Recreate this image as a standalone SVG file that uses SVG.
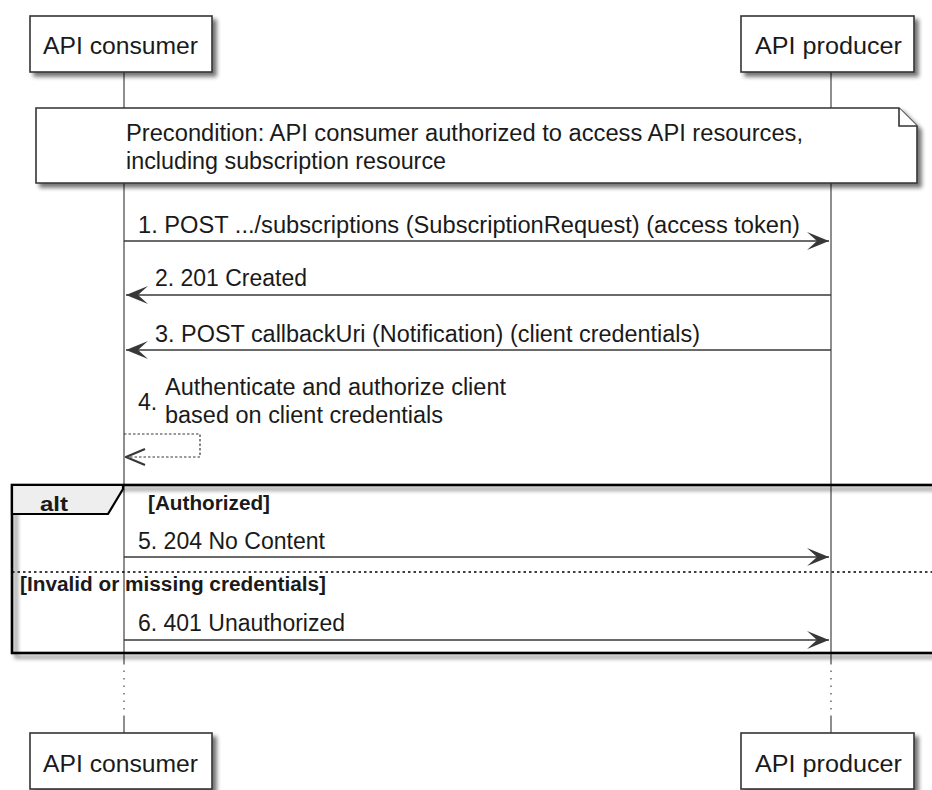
<svg xmlns="http://www.w3.org/2000/svg" width="932" height="790" viewBox="0 0 932 790">
  <style>
    text { font-family: "Liberation Sans", Arial, sans-serif; fill: #1a1a1a; }
    .lbl { font-size: 23px; }
    .bold { font-size: 20px; font-weight: bold; }
    .box { fill: #ffffff; stroke: #333333; stroke-width: 1.6; }
    .life { stroke: #444444; stroke-width: 1.2; fill: none; }
    .lifedot { stroke: #444444; stroke-width: 1.2; stroke-dasharray: 1.5 6; fill: none; }
    .msg { stroke: #383838; stroke-width: 1.6; fill: none; marker-end: url(#arrow); }
    .self { stroke: #383838; stroke-width: 1.2; stroke-dasharray: 2.5 2; fill: none; marker-end: url(#open); }
    .frame { fill: none; stroke: #000000; stroke-width: 2.6; }
    .sep { stroke: #000000; stroke-width: 1.5; stroke-dasharray: 2.5 3; }
  </style>
  <defs>
    <filter id="shadow" x="-5%" y="-10%" width="115%" height="140%">
      <feGaussianBlur in="SourceAlpha" stdDeviation="2"/>
      <feOffset dx="4" dy="4" result="off"/>
      <feComponentTransfer><feFuncA type="linear" slope="0.55"/></feComponentTransfer>
      <feMerge><feMergeNode/><feMergeNode in="SourceGraphic"/></feMerge>
    </filter>
    <marker id="arrow" viewBox="-23 -10 24 20" refX="0" refY="0" markerWidth="24" markerHeight="20" markerUnits="userSpaceOnUse" orient="auto">
      <path d="M0,0 L-22,-9 L-12,0 L-22,9 Z" fill="#383838"/>
    </marker>
    <marker id="open" viewBox="-21 -10 22 20" refX="0" refY="0" markerWidth="22" markerHeight="20" markerUnits="userSpaceOnUse" orient="auto">
      <path d="M-19,-8 L0,0 L-19,8" fill="none" stroke="#383838" stroke-width="2.2"/>
    </marker>
  </defs>

  <!-- lifelines -->
  <g id="lifelines">
    <path class="life" d="M124,72 V663 M124,717 V733 M831,72 V663 M831,717 V733"/>
    <path class="lifedot" d="M124,663 V717 M831,663 V717"/>
  </g>

  <!-- participants -->
  <g id="consumer-top">
    <rect class="box" x="30" y="16" width="182" height="56" filter="url(#shadow)"/>
    <text class="lbl" x="43" y="54" textLength="155" lengthAdjust="spacingAndGlyphs">API consumer</text>
  </g>
  <g id="producer-top">
    <rect class="box" x="741" y="16" width="173" height="56" filter="url(#shadow)"/>
    <text class="lbl" x="755" y="54" textLength="147" lengthAdjust="spacingAndGlyphs">API producer</text>
  </g>
  <g id="consumer-bottom">
    <rect class="box" x="30" y="733" width="182" height="56" filter="url(#shadow)"/>
    <text class="lbl" x="43" y="772" textLength="155" lengthAdjust="spacingAndGlyphs">API consumer</text>
  </g>
  <g id="producer-bottom">
    <rect class="box" x="741" y="733" width="173" height="56" filter="url(#shadow)"/>
    <text class="lbl" x="755" y="772" textLength="147" lengthAdjust="spacingAndGlyphs">API producer</text>
  </g>

  <!-- precondition note -->
  <g id="note">
    <path class="box" d="M36,108 H899 L917,126 V183 H36 Z" filter="url(#shadow)"/>
    <path class="box" d="M899,108 V126 H917"/>
    <text class="lbl" x="126" y="141" textLength="677" lengthAdjust="spacingAndGlyphs">Precondition: API consumer authorized to access API resources,</text>
    <text class="lbl" x="126" y="169" textLength="320" lengthAdjust="spacingAndGlyphs">including subscription resource</text>
  </g>

  <!-- alt combined fragment -->
  <g id="alt">
    <rect class="frame" x="12" y="485" width="930" height="168" filter="url(#shadow)"/>
    <path d="M12,485 H123 V489 L108,514 H12 Z" fill="#eeeeee" stroke="#000000" stroke-width="2.2"/>
    <text class="bold" x="40" y="511" textLength="28" lengthAdjust="spacingAndGlyphs">alt</text>
    <text class="bold" x="148" y="510" textLength="122" lengthAdjust="spacingAndGlyphs">[Authorized]</text>
    <line class="sep" x1="12" y1="572" x2="932" y2="572"/>
    <text class="bold" x="20" y="591" textLength="306" lengthAdjust="spacingAndGlyphs">[Invalid or missing credentials]</text>
  </g>

  <!-- messages -->
  <g id="connectors">
    <line class="msg" x1="124" y1="241" x2="829" y2="241"/>
    <line class="msg" x1="831" y1="295" x2="126" y2="295"/>
    <line class="msg" x1="831" y1="350" x2="126" y2="350"/>
    <path class="self" d="M124,434 H200 V457 H126"/>
    <line class="msg" x1="124" y1="557" x2="829" y2="557"/>
    <line class="msg" x1="124" y1="640" x2="829" y2="640"/>
  </g>

  <g id="message-labels">
    <text class="lbl" x="138" y="233" textLength="662" lengthAdjust="spacingAndGlyphs">1. POST .../subscriptions (SubscriptionRequest) (access token)</text>
    <text class="lbl" x="155" y="286" textLength="152" lengthAdjust="spacingAndGlyphs">2. 201 Created</text>
    <text class="lbl" x="155" y="342" textLength="545" lengthAdjust="spacingAndGlyphs">3. POST callbackUri (Notification) (client credentials)</text>
    <text class="lbl" x="138" y="410">4.</text>
    <text class="lbl" x="165" y="395" textLength="341" lengthAdjust="spacingAndGlyphs">Authenticate and authorize client</text>
    <text class="lbl" x="165" y="423" textLength="278" lengthAdjust="spacingAndGlyphs">based on client credentials</text>
    <text class="lbl" x="138" y="549" textLength="187" lengthAdjust="spacingAndGlyphs">5. 204 No Content</text>
    <text class="lbl" x="138" y="631" textLength="207" lengthAdjust="spacingAndGlyphs">6. 401 Unauthorized</text>
  </g>
</svg>
